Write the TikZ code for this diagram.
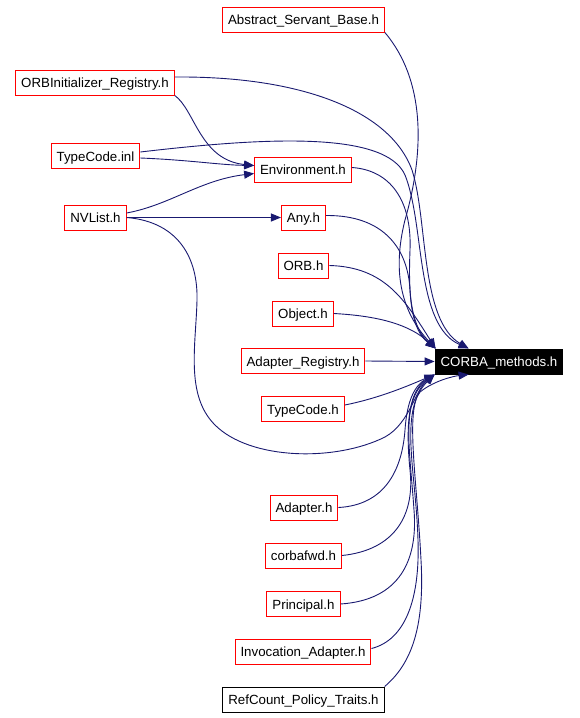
\documentclass[tikz,border=0pt]{standalone}
\usepackage{fontspec}
\setmainfont{Liberation Sans}
\usetikzlibrary{arrows.meta}
\definecolor{edgec}{HTML}{191970}
\begin{document}
\begin{tikzpicture}[x={(1pt,0)},y={(0,-1pt)},
  box/.style={draw=red, line width=1pt, fill=white, minimum height=25pt, inner xsep=5.5pt, inner ysep=0pt,
    font=\fontsize{13.3}{15}\selectfont, text height=10pt, text depth=0pt},
  rootbox/.style={box, draw=black, fill=black, text=white},
  plainbox/.style={box, draw=black},
  dep/.style={draw=edgec, line width=0.9pt, -{Triangle[length=10pt,width=8pt]}}]
\useasboundingbox (0,0) rectangle (579,718);
\node[box] (asb) at (303.5,19.5) {Abstract\_Servant\_Base.h};
\node[box] (ori) at (95,82.5) {ORBInitializer\_Registry.h};
\node[box] (tci) at (95.5,156) {TypeCode.inl};
\node[box] (nvl) at (95.5,217.5) {NVList.h};
\node[box] (env) at (303,169.5) {Environment.h};
\node[box] (any) at (303.5,217.5) {Any.h};
\node[box] (orb) at (303.5,265.5) {ORB.h};
\node[box] (obj) at (303,313.5) {Object.h};
\node[box] (adr) at (303,361) {Adapter\_Registry.h};
\node[box] (tch) at (303,409) {TypeCode.h};
\node[rootbox] (cm) at (499,361.5) {CORBA\_methods.h};
\node[box] (ada) at (304,507.5) {Adapter.h};
\node[box] (cfw) at (303.5,555.5) {corbafwd.h};
\node[box] (pri) at (303.5,604) {Principal.h};
\node[box] (inv) at (303,651.5) {Invocation\_Adapter.h};
\node[plainbox] (rcp) at (303.5,699.5) {RefCount\_Policy\_Traits.h};

% edges into Environment.h and Any.h
\draw[dep] (ori.south east) .. controls (195,110) and (200,160) .. ([yshift=4pt]env.west);
\draw[dep] ([yshift=-2pt]tci.east) .. controls (190,160) and (220,165) .. ([yshift=4pt]env.west);
\draw[dep] ([yshift=4.5pt]nvl.east) .. controls (170,205) and (200,180) .. ([yshift=-4pt]env.west);
\draw[dep] (nvl.east) -- (any.west);

% edges into CORBA_methods.h from above
\draw[dep] (asb.south east) .. controls (425,80) and (425,150) .. (405,220) .. controls (395,260) and (395,305) .. ([xshift=1pt]cm.north west);
\draw[dep] ([yshift=5.5pt]ori.east) .. controls (300,76) and (390,110) .. (412,170) .. controls (428,220) and (420,320) .. ([xshift=34pt]cm.north west);
\draw[dep] ([yshift=4pt]tci.east) .. controls (260,138) and (385,130) .. (405,175) .. controls (425,225) and (415,325) .. ([xshift=34pt]cm.north west);
\draw[dep] ([yshift=2pt]env.east) .. controls (390,170) and (412,200) .. (410,250) .. controls (408,300) and (412,330) .. ([xshift=1pt]cm.north west);
\draw[dep] ([yshift=2pt]any.east) .. controls (385,215) and (408,250) .. (410,290) .. controls (412,320) and (420,335) .. ([xshift=1pt]cm.north west);
\draw[dep] (orb.east) .. controls (385,267) and (405,300) .. ([xshift=1pt]cm.north west);
\draw[dep] (obj.east) .. controls (380,316) and (410,325) .. ([xshift=1pt]cm.north west);
\draw[dep] (adr.east) -- (cm.west);

% edges into CORBA_methods.h from below
\draw[dep] ([yshift=4pt]tch.east) .. controls (380,398) and (410,385) .. (cm.south west);
\draw[dep] (nvl.east) .. controls (180,222) and (198,260) .. (197,300) .. controls (196,345) and (185,395) .. (215,425) .. controls (250,460) and (335,462) .. (385,437) .. controls (410,423) and (415,390) .. (cm.south west);
\draw[dep] (ada.east) .. controls (385,505) and (402,470) .. (405,430) .. controls (407,400) and (415,385) .. (cm.south west);
\draw[dep] (cfw.east) .. controls (395,550) and (415,515) .. (410,470) .. controls (405,420) and (410,390) .. (cm.south west);
\draw[dep] (pri.east) .. controls (400,600) and (418,560) .. (414,510) .. controls (410,450) and (400,400) .. (cm.south west);
\draw[dep] ([yshift=3pt]inv.east) .. controls (405,640) and (420,600) .. (418,540) .. controls (416,470) and (398,410) .. (cm.south west);
\draw[dep] (rcp.north east) .. controls (410,665) and (425,630) .. (421,560) .. controls (417,480) and (405,410) .. (420,392) .. controls (435,380) and (455,376) .. ([xshift=34pt]cm.south west);
\end{tikzpicture}
\end{document}
